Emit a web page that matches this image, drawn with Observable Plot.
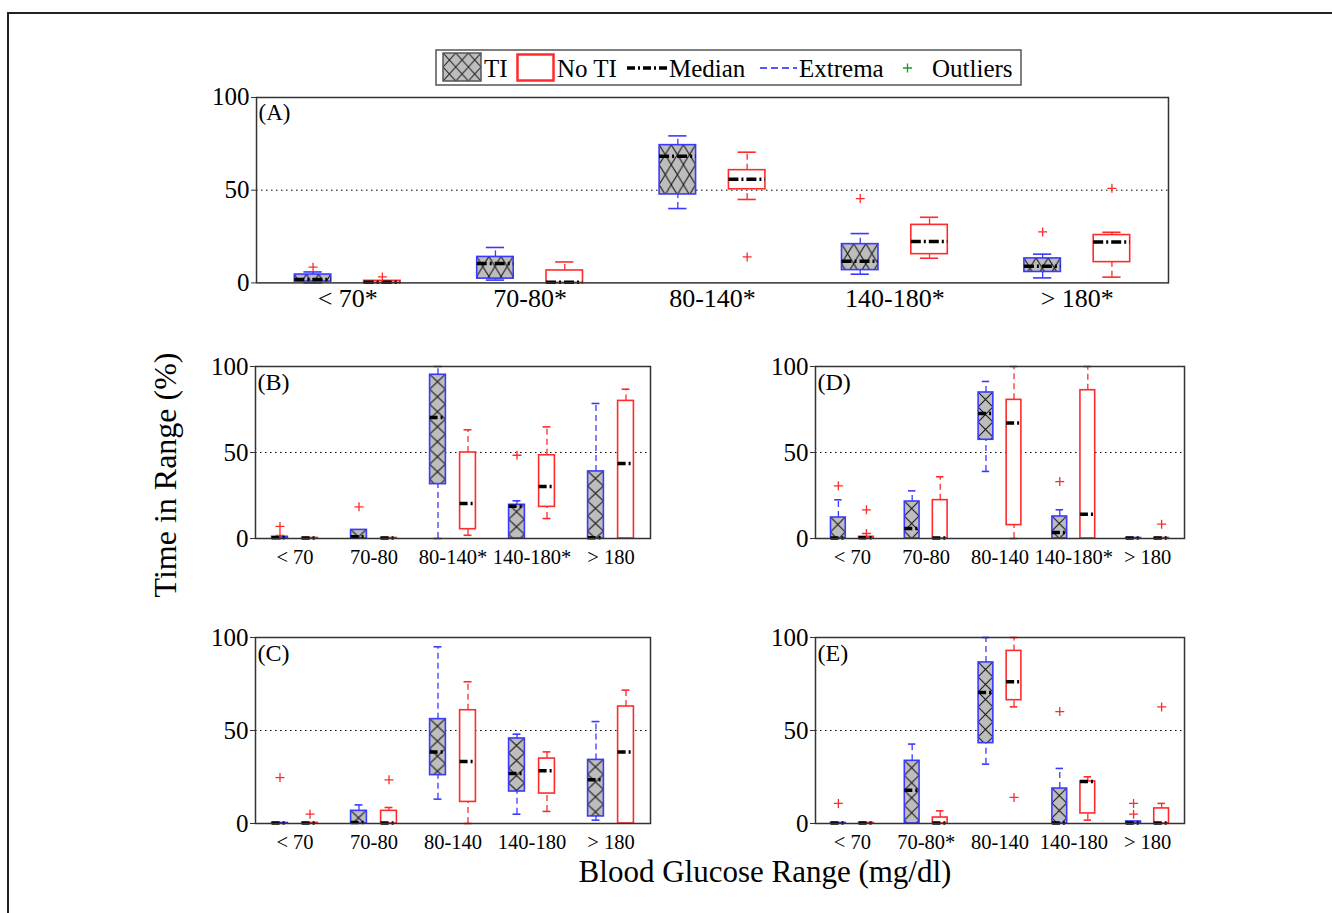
<!DOCTYPE html>
<html><head><meta charset="utf-8">
<script src="https://cdn.jsdelivr.net/npm/d3@7"></script>
<script src="https://cdn.jsdelivr.net/npm/@observablehq/plot@0.6"></script>
<style>
html,body{margin:0;padding:0;background:#fff;}
body{width:1332px;height:913px;overflow:hidden;position:relative;font-family:"Liberation Serif","Times New Roman",serif;}
.abs{position:absolute;}
</style></head><body>
<div class="abs" style="left:7px;top:12px;width:1340px;height:920px;border-top:2px solid #222;border-left:2px solid #222;"></div>
<svg class="abs" id="deco" width="1332" height="913" style="left:0;top:0;font-family:'Liberation Serif',serif;"></svg>
<div id="panels"></div>
<script>
// ---------------- data ----------------
const seriesNames = ["TI", "No TI"];
const labelsA = ["< 70*", "70-80*", "80-140*", "140-180*", "> 180*"];
const labelsB = ["< 70", "70-80", "80-140*", "140-180*", "> 180"];
const labelsC = ["< 70", "70-80", "80-140", "140-180", "> 180"];
const labelsD = ["< 70", "70-80", "80-140", "140-180*", "> 180"];
const labelsE = ["< 70", "70-80*", "80-140", "140-180", "> 180"];
const yTicks = [0, 50, 100];

// each box: [lower extreme, q1, median, q3, upper extreme]
const tiA = [[0, 0.7, 1.8, 4.5, 5.9], [1.5, 2.3, 10.4, 14.0, 19.1], [40.1, 47.7, 68.3, 74.3, 79.3], [4.7, 6.9, 11.7, 20.9, 26.6], [2.7, 5.9, 9.0, 13.2, 15.5]];
const noA = [[0, 0, 0.3, 1.1, 1.1], [0, 0, 0.3, 6.7, 11.3], [45.0, 50.5, 55.9, 60.8, 70.5], [13.3, 15.5, 22.3, 31.3, 35.4], [3.1, 11.2, 22.0, 25.8, 27.3]];
const tiB = [[0, 0, 0.4, 1.0, 1.0], [0, 0, 1.0, 5.0, 5.0], [0, 31.6, 70.3, 95.2, 100], [0, 0, 18.8, 19.6, 21.9], [0, 0, 0.4, 39.0, 78.5]];
const noB = [[0, 0, 0.3, 0.3, 0.3], [0, 0, 0.3, 0.3, 0.3], [1.9, 5.4, 20.3, 50.0, 63.2], [11.6, 18.4, 30.2, 48.4, 64.9], [0, 0, 43.6, 80.0, 86.8]];
const tiC = [[0, 0, 0.3, 0.3, 0.3], [0, 0, 0.5, 6.8, 10.0], [13.1, 26.0, 38.5, 56.1, 95.0], [5.0, 17.2, 26.9, 45.7, 48.0], [1.8, 3.8, 23.5, 34.2, 54.8]];
const noC = [[0, 0, 0.3, 0.3, 0.3], [0, 0, 0.3, 6.8, 8.6], [0, 11.6, 33.3, 60.9, 76.2], [6.5, 16.1, 28.3, 34.9, 38.5], [0, 0, 38.5, 62.9, 71.7]];
const tiD = [[0, 0, 0.3, 12.2, 22.5], [0, 0, 5.8, 21.5, 27.7], [39.0, 57.4, 72.7, 84.9, 91.3], [0, 0, 3.5, 12.8, 16.7], [0, 0, 0.3, 0.3, 0.3]];
const noD = [[0, 0, 0.5, 1.0, 1.0], [0, 0, 0.3, 22.3, 35.9], [0, 7.8, 67.1, 80.6, 100], [0, 0, 14.1, 86.2, 100], [0, 0, 0.3, 0.3, 0.3]];
const tiE = [[0, 0, 0.3, 0.3, 0.3], [0, 0, 17.9, 33.7, 42.7], [31.9, 43.2, 70.4, 86.6, 100], [0, 0, 0.3, 18.8, 29.6], [0, 0, 0.3, 1.1, 1.1]];
const noE = [[0, 0, 0.3, 0.3, 0.3], [0, 0, 0.3, 3.2, 6.8], [62.7, 66.3, 76.2, 92.8, 100], [1.8, 5.4, 22.6, 22.6, 25.1], [0, 0, 0.3, 8.1, 10.8]];

// outliers: [group (1-5), value]
const outTiA = [[1, 8.5], [4, 45.5], [5, 27.5]];
const outNoA = [[1, 3.2], [3, 14.0], [5, 51.0]];
const outTiB = [[1, 7.0], [1, 1.8], [2, 18.4], [4, 48.4]];
const outNoB = [];
const outTiC = [[1, 24.7]];
const outNoC = [[1, 5.0], [2, 23.5]];
const outTiD = [[1, 30.6], [4, 33.1]];
const outNoD = [[1, 16.7], [1, 2.9], [5, 8.3]];
const outTiE = [[1, 10.8], [4, 60.2], [5, 10.8], [5, 5.0]];
const outNoE = [[3, 14.0], [5, 62.7]];

// ---------------- styling ----------------
const BLUE = "#3a3aff", RED = "#ff2b2b", GRAY = "#c0c0c1";
const FONT = "Liberation Serif";
const cross = {draw(ctx, size) { const r = Math.sqrt(size / Math.PI); ctx.moveTo(-r, 0); ctx.lineTo(r, 0); ctx.moveTo(0, -r); ctx.lineTo(0, r); }};

const layouts = [
  {id: "A", labels: labelsA, ti: tiA, no: noA, oT: outTiA, oN: outNoA, l: 256, r: 1168, t: 97.3, b: 282.7, xf: 26, pad: 6, cols: 3, ch: 20, dash: "10,3,2,3"},
  {id: "B", labels: labelsB, ti: tiB, no: noB, oT: outTiB, oN: outNoB, l: 255, r: 650, t: 365.7, b: 537.7, xf: 20.5, pad: 11, cols: 1, ch: 15, dash: "8,3,2,3"},
  {id: "C", labels: labelsC, ti: tiC, no: noC, oT: outTiC, oN: outNoC, l: 255, r: 650, t: 636.7, b: 822.7, xf: 20.5, pad: 11, cols: 1, ch: 15, dash: "8,3,2,3"},
  {id: "D", labels: labelsD, ti: tiD, no: noD, oT: outTiD, oN: outNoD, l: 815, r: 1184, t: 365.7, b: 537.7, xf: 20.5, pad: 11, cols: 1, ch: 15, dash: "8,3,2,3"},
  {id: "E", labels: labelsE, ti: tiE, no: noE, oT: outTiE, oN: outNoE, l: 815, r: 1184, t: 636.7, b: 822.7, xf: 20.5, pad: 11, cols: 1, ch: 15, dash: "8,3,2,3"}
];

const OFF = 0.19, HW = 0.1, CAP = 0.05;
const ml = 60, mr = 15, mt = 15, mb = 45;
const host = document.getElementById("panels");

function addHatch(svgNode, id, cols, ch) {
  const svg = d3.select(svgNode);
  const defs = svg.insert("defs", ":first-child");
  svg.selectAll(`g[fill="${GRAY}"] rect`).each(function(d, i) {
    const r = d3.select(this);
    const x = +r.attr("x"), y = +r.attr("y"), w = +r.attr("width");
    const cw = w / cols;
    const pid = `hatch${id}${i}`;
    const p = defs.append("pattern").attr("id", pid).attr("patternUnits", "userSpaceOnUse")
      .attr("x", x).attr("y", y).attr("width", cw).attr("height", ch);
    p.append("rect").attr("width", cw).attr("height", ch).attr("fill", "#bdbdbd");
    p.append("path").attr("d", `M0,0L${cw},${ch}M${cw},0L0,${ch}`).attr("stroke", "#111").attr("stroke-width", 1).attr("fill", "none");
    r.attr("fill", `url(#${pid})`);
  });
}

for (const L of layouts) {
  const rows = [
    ...L.ti.map((s, i) => ({pos: i + 1 - OFF, lo: s[0], q1: s[1], med: s[2], q3: s[3], hi: s[4], c: BLUE, s: seriesNames[0]})),
    ...L.no.map((s, i) => ({pos: i + 1 + OFF, lo: s[0], q1: s[1], med: s[2], q3: s[3], hi: s[4], c: RED, s: seriesNames[1]}))
  ];
  const outs = [
    ...L.oT.map(([g, v]) => ({pos: g - OFF, v})),
    ...L.oN.map(([g, v]) => ({pos: g + OFF, v}))
  ];
  const W = L.r - L.l + ml + mr, H = L.b - L.t + mt + mb;
  const plot = Plot.plot({
    width: W, height: H, marginLeft: ml, marginRight: mr, marginTop: mt, marginBottom: mb,
    x: {domain: [0.5, 5.5], axis: null},
    y: {domain: [0, 100], axis: null},
    color: {type: "identity"},
    style: {fontFamily: FONT, fontSize: "25px", color: "black", background: "transparent", overflow: "visible"},
    marks: [
      Plot.ruleY([50], {stroke: "#000", strokeDasharray: "1.5,3.5", strokeWidth: 1}),
      Plot.ruleX(rows.filter(d => d.q1 > d.lo), {x: "pos", y1: "lo", y2: "q1", stroke: "c", strokeDasharray: "6,4", strokeWidth: 1.3}),
      Plot.ruleX(rows.filter(d => d.hi > d.q3), {x: "pos", y1: "q3", y2: "hi", stroke: "c", strokeDasharray: "6,4", strokeWidth: 1.3}),
      Plot.ruleY(rows.filter(d => d.q1 > d.lo), {y: "lo", x1: d => d.pos - CAP, x2: d => d.pos + CAP, stroke: "c", strokeWidth: 1.6}),
      Plot.ruleY(rows.filter(d => d.hi > d.q3), {y: "hi", x1: d => d.pos - CAP, x2: d => d.pos + CAP, stroke: "c", strokeWidth: 1.6}),
      Plot.rect(rows.filter(d => d.s === seriesNames[1] && d.q3 > d.q1), {x1: d => d.pos - HW, x2: d => d.pos + HW, y1: "q1", y2: "q3", fill: "white", stroke: "c", strokeWidth: 1.6}),
      Plot.rect(rows.filter(d => d.s === seriesNames[0] && d.q3 > d.q1), {x1: d => d.pos - HW, x2: d => d.pos + HW, y1: "q1", y2: "q3", fill: GRAY, stroke: "c", strokeWidth: 1.6}),
      Plot.ruleY(rows, {y: "med", x1: d => d.pos - HW, x2: d => d.pos + HW, stroke: "black", strokeWidth: 3.5, strokeDasharray: L.dash}),
      Plot.dot(outs, {x: "pos", y: "v", r: 4.5, symbol: cross, stroke: RED, fill: "none", strokeWidth: 1.3}),
      Plot.frame({stroke: "#333", strokeWidth: 1.5}),
      Plot.axisY({ticks: yTicks, tickSize: 5, tickPadding: 2, fontSize: 25, label: null, stroke: "#333"}),
      Plot.axisX({ticks: [1, 2, 3, 4, 5], tickFormat: i => L.labels[i - 1], tickSize: 0, tickPadding: L.pad, fontSize: L.xf, label: null}),
      Plot.text([`(${L.id})`], {frameAnchor: "top-left", dx: 2, dy: 6, textAnchor: "start", lineAnchor: "top", fontSize: L.id === "A" ? 23 : 24, fill: "black"})
    ]
  });
  addHatch(plot, L.id, L.cols, L.ch);
  const div = document.createElement("div");
  div.className = "abs";
  div.style.left = (L.l - ml) + "px";
  div.style.top = (L.t - mt) + "px";
  div.style.width = W + "px";
  div.style.height = H + "px";
  div.appendChild(plot);
  host.appendChild(div);
}

// ---------------- legend & axis titles ----------------
const deco = d3.select("#deco");
const ddefs = deco.append("defs");
const lp = ddefs.append("pattern").attr("id", "legHatch").attr("patternUnits", "userSpaceOnUse")
  .attr("x", 443).attr("y", 53).attr("width", 12.7).attr("height", 14);
lp.append("rect").attr("width", 12.7).attr("height", 14).attr("fill", "#bdbdbd");
lp.append("path").attr("d", "M0,0L12.7,14M12.7,0L0,14").attr("stroke", "#222").attr("fill", "none");
deco.append("rect").attr("x", 436).attr("y", 50).attr("width", 585).attr("height", 35).attr("fill", "white").attr("stroke", "#555").attr("stroke-width", 1.5);
deco.append("rect").attr("x", 443).attr("y", 53).attr("width", 38).attr("height", 28).attr("fill", "url(#legHatch)").attr("stroke", "#555").attr("stroke-width", 1.5);
deco.append("rect").attr("x", 517.5).attr("y", 54.5).attr("width", 36).attr("height", 26).attr("fill", "white").attr("stroke", RED).attr("stroke-width", 2.5);
deco.append("line").attr("x1", 627).attr("x2", 667).attr("y1", 68).attr("y2", 68).attr("stroke", "black").attr("stroke-width", 3.5).attr("stroke-dasharray", "8,3,2,3");
deco.append("line").attr("x1", 760).attr("x2", 797).attr("y1", 68).attr("y2", 68).attr("stroke", "#2020ff").attr("stroke-width", 1.5).attr("stroke-dasharray", "7,4");
deco.append("path").attr("d", "M903,68L912,68M907.5,63.5L907.5,72.5").attr("stroke", "#1a9a1a").attr("stroke-width", 1.3);
const legTexts = [["TI", 484], ["No TI", 557], ["Median", 669], ["Extrema", 799], ["Outliers", 932]];
deco.selectAll("text.leg").data(legTexts).join("text").attr("class", "leg")
  .attr("x", d => d[1]).attr("y", 76.5).attr("font-size", 25).attr("fill", "black").text(d => d[0]);
deco.append("text").attr("x", 765).attr("y", 882).attr("text-anchor", "middle").attr("font-size", 31).attr("fill", "black").text("Blood Glucose Range (mg/dl)");
deco.append("text").attr("transform", "translate(176,475) rotate(-90)").attr("text-anchor", "middle").attr("font-size", 32).attr("fill", "black").text("Time in Range (%)");
</script>
</body></html>
